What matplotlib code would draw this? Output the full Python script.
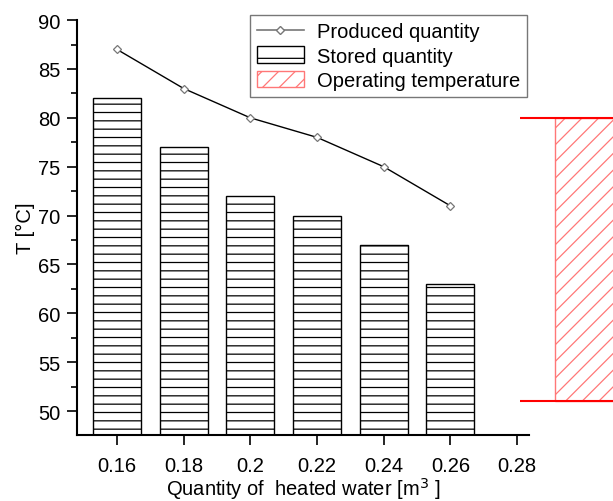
import matplotlib
matplotlib.use('Agg')
import matplotlib.pyplot as plt
from matplotlib.lines import Line2D
from matplotlib.patches import Rectangle
from matplotlib.ticker import MultipleLocator

plt.rcParams['font.family'] = ['Liberation Sans', 'DejaVu Sans']
plt.rcParams['hatch.linewidth'] = 0.9

# data
water_qty = [0.16, 0.18, 0.20, 0.22, 0.24, 0.26]
produced_T = [87, 83, 80, 78, 75, 71]
stored_T = [82, 77, 72, 70, 67, 63]
x_ticks = [0.16, 0.18, 0.2, 0.22, 0.24, 0.26, 0.28]
x_tick_labels = ['0.16', '0.18', '0.2', '0.22', '0.24', '0.26', '0.28']
op_T_low = 51
op_T_high = 80

FS = 14.5

fig = plt.figure(figsize=(6.13, 5.02), dpi=100)
ax = fig.add_axes([0.1256, 0.1315, 0.863 - 0.1256, 0.958 - 0.1315])

# stored quantity bars (horizontal hatch)
ax.bar(water_qty, stored_T, width=0.0144, bottom=0, facecolor='white',
       edgecolor='black', linewidth=1.0, hatch='--', zorder=2)

# produced quantity
ax.plot(water_qty, produced_T, color='black', linewidth=1.0, zorder=3)
ax.plot(water_qty, produced_T, linestyle='none', marker='D', markersize=4.5,
        markerfacecolor='white', markeredgecolor='#777777', markeredgewidth=0.9, zorder=4)

# operating temperature range, drawn outside the axes on the right
ax.hlines([op_T_high, op_T_low], 0.281, 0.32, colors='red', linewidth=1.5, clip_on=False, zorder=5)
op_rect = Rectangle((0.2913, op_T_low), 0.03, op_T_high - op_T_low, facecolor='white',
                    edgecolor='#ff7777', hatch='//', linewidth=1.0, clip_on=False, zorder=4)
ax.add_patch(op_rect)

ax.set_xlim(0.148, 0.2836)
ax.set_ylim(47.55, 90)
ax.set_xticks(x_ticks)
ax.set_xticklabels(x_tick_labels)
ax.yaxis.set_major_locator(MultipleLocator(5))
ax.yaxis.set_minor_locator(MultipleLocator(2.5))

ax.spines['top'].set_visible(False)
ax.spines['right'].set_visible(False)
ax.spines['left'].set_linewidth(1.5)
ax.spines['bottom'].set_linewidth(1.5)
ax.tick_params(axis='both', which='major', direction='out', length=7, width=1.2, labelsize=FS, pad=5)
ax.tick_params(axis='y', which='minor', direction='out', length=4, width=1.2)
ax.tick_params(axis='x', pad=8)

ax.set_xlabel('Quantity of  heated water [m$^3$ ]', fontsize=FS, labelpad=0)
ax.set_ylabel('T [°C]', fontsize=FS, labelpad=2)

handles = [
    Line2D([0], [0], color='#777777', linewidth=1.2, marker='D', markersize=4.5,
           markerfacecolor='white', markeredgecolor='#777777'),
    Rectangle((0, 0), 1, 1, facecolor='white', edgecolor='black', hatch='-'),
    Rectangle((0, 0), 1, 1, facecolor='white', edgecolor='#ff7777', hatch='//'),
]
labels = ['Produced quantity', 'Stored quantity', 'Operating temperature']
leg = ax.legend(handles, labels, loc='upper right', bbox_to_anchor=(527 / 613, 1 - 16 / 502),
                bbox_transform=fig.transFigure, borderaxespad=0, fontsize=FS,
                fancybox=False, framealpha=1, edgecolor='#777777', handlelength=2.3,
                handletextpad=0.65, borderpad=0.35, labelspacing=0.25, handleheight=0.9)
leg.get_frame().set_linewidth(1.0)

plt.savefig('out.png', dpi=100)
